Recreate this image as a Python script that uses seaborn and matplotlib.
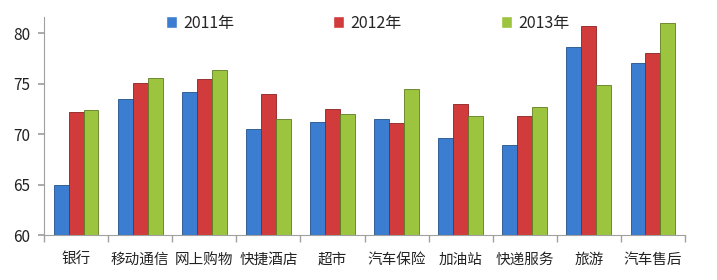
import matplotlib
matplotlib.use("Agg")
import matplotlib.pyplot as plt
import seaborn as sns
import pandas as pd
import numpy as np
from matplotlib.ticker import FixedLocator

categories = ["银行", "移动通信", "网上购物", "快捷酒店", "超市", "汽车保险", "加油站", "快递服务", "旅游", "汽车售后"]
years = ["2011年", "2012年", "2013年"]
v2011 = [65.0, 73.5, 74.2, 70.5, 71.2, 71.5, 69.6, 68.9, 78.6, 77.0]
v2012 = [72.2, 75.1, 75.5, 74.0, 72.5, 71.1, 73.0, 71.8, 80.7, 78.0]
v2013 = [72.4, 75.6, 76.3, 71.5, 72.0, 74.5, 71.8, 72.7, 74.9, 81.0]
colors = ["#3b7dd0", "#d23b3b", "#9cc43f"]
edges = ["#24508a", "#8c2222", "#5f7d22"]

sns.set_theme(style="white")
plt.rcParams['font.family'] = ['Noto Sans CJK SC', 'DejaVu Sans']

rows = []
for y, vals in zip(years, [v2011, v2012, v2013]):
    for c, v in zip(categories, vals):
        rows.append({"cat": c, "year": y, "val": v})
df = pd.DataFrame(rows)

fig = plt.figure(figsize=(7.17, 2.8), dpi=100)
ax = fig.add_axes([44/717, 45/280, (685-44)/717, (235-17)/280])
sns.barplot(data=df, x="cat", y="val", hue="year", palette=colors, width=0.7,
            saturation=1, ax=ax, order=categories, hue_order=years)
for i, cont in enumerate(ax.containers):
    for p in cont.patches:
        p.set_edgecolor(edges[i])
        p.set_linewidth(0.6)

ax.set_ylim(60, 81.6)
ax.set_xlim(-0.5, len(categories) - 0.5)
ax.set_yticks([60, 65, 70, 75, 80])
ax.set_xlabel("")
ax.set_ylabel("")
for s in ["top", "right"]:
    ax.spines[s].set_visible(False)
for s in ["left", "bottom"]:
    ax.spines[s].set_color("#a0a0a0")
    ax.spines[s].set_linewidth(0.8)
ax.tick_params(axis="y", left=True, length=4, color="#a0a0a0", labelsize=11, pad=6, labelcolor="#222222")
ax.tick_params(axis="x", bottom=False, labelsize=10.5, pad=7, labelcolor="#222222")
ax.xaxis.set_minor_locator(FixedLocator(np.arange(-0.5, len(categories), 1.0)))
ax.tick_params(axis="x", which="minor", bottom=True, length=5, color="#a0a0a0")

handles, labels = ax.get_legend_handles_labels()
ax.legend(handles, labels, loc="center", bbox_to_anchor=(0.505, 0.972), ncol=3,
          frameon=False, fontsize=11.5, columnspacing=6.2, handlelength=0.7,
          handleheight=0.7, handletextpad=0.4, borderpad=0)

fig.savefig("out.png", dpi=100)
